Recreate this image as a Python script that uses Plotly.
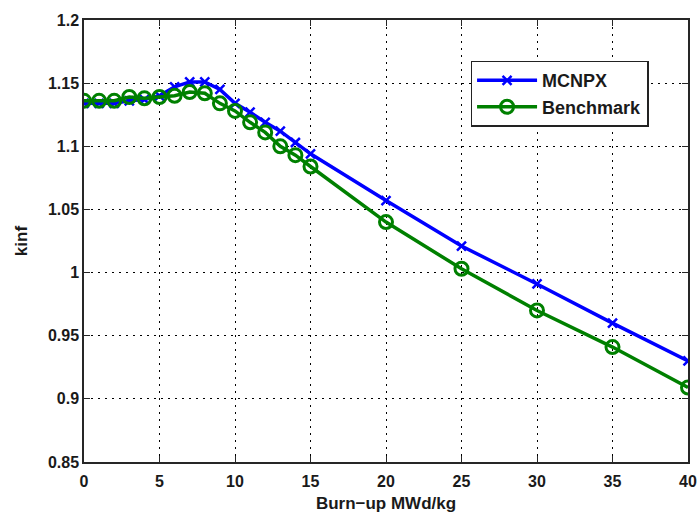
import plotly.graph_objects as go

burnup = [0, 1, 2, 3, 4, 5, 6, 7, 8, 9, 10, 11, 12, 13, 14, 15, 20, 25, 30, 35, 40]
mcnpx = [1.134, 1.134, 1.134, 1.136, 1.137, 1.140, 1.147, 1.151, 1.151, 1.145, 1.134,
         1.127, 1.119, 1.112, 1.103, 1.094, 1.057, 1.021, 0.991, 0.960, 0.930]
benchmark = [1.136, 1.136, 1.136, 1.139, 1.138, 1.139, 1.140, 1.143, 1.142, 1.134, 1.128,
             1.119, 1.111, 1.100, 1.093, 1.084, 1.040, 1.003, 0.970, 0.941, 0.909]

x_ticks = [0, 5, 10, 15, 20, 25, 30, 35, 40]
y_ticks = [0.85, 0.9, 0.95, 1.0, 1.05, 1.1, 1.15, 1.2]
y_ticklabels = ["0.85", "0.9", "0.95", "1", "1.05", "1.1", "1.15", "1.2"]

FONT = "Liberation Sans, Arial, sans-serif"
TXT = "#1a1a1a"

fig = go.Figure()
fig.add_trace(go.Scatter(
    x=burnup, y=mcnpx, name="MCNPX", mode="lines+markers",
    line=dict(color="#0000ff", width=3.5),
    marker=dict(symbol="x-thin", size=9, line=dict(color="#0000ff", width=2.5)),
))
fig.add_trace(go.Scatter(
    x=burnup, y=benchmark, name="Benchmark", mode="lines+markers",
    line=dict(color="#008000", width=3.5),
    marker=dict(symbol="circle-open", size=13, color="#008000",
                line=dict(color="#008000", width=3)),
))

axis_common = dict(
    showline=True, linecolor="#262626", linewidth=1.5, mirror="ticks",
    ticks="inside", ticklen=6, tickcolor="#262626", tickwidth=1,
    showgrid=True, gridcolor="#000000", gridwidth=1, griddash="2px,5px",
    zeroline=False, automargin=False,
    tickfont=dict(family=FONT, size=16, color=TXT, weight="bold"),
)

fig.update_xaxes(
    range=[0, 40], tickvals=x_ticks, ticklabelstandoff=4,
    title=dict(text="Burn\u2212up MWd/kg", standoff=8,
               font=dict(family=FONT, size=17, color=TXT, weight="bold")),
    **axis_common,
)
fig.update_yaxes(
    range=[0.85, 1.2], tickvals=y_ticks, ticktext=y_ticklabels,
    title=dict(text="kinf", standoff=16,
               font=dict(family=FONT, size=17, color=TXT, weight="bold")),
    **axis_common,
)

fig.update_layout(
    width=698, height=513,
    margin=dict(l=84, r=10, t=20, b=51),
    plot_bgcolor="white", paper_bgcolor="white",
    legend=dict(
        x=0.64, y=0.908, xanchor="left", yanchor="top",
        bgcolor="white", bordercolor="#222222", borderwidth=1.5,
        font=dict(family=FONT, size=18, color=TXT, weight="bold"),
        itemwidth=60, tracegroupgap=0,
    ),
    showlegend=True,
)

fig.write_html("out.html")
